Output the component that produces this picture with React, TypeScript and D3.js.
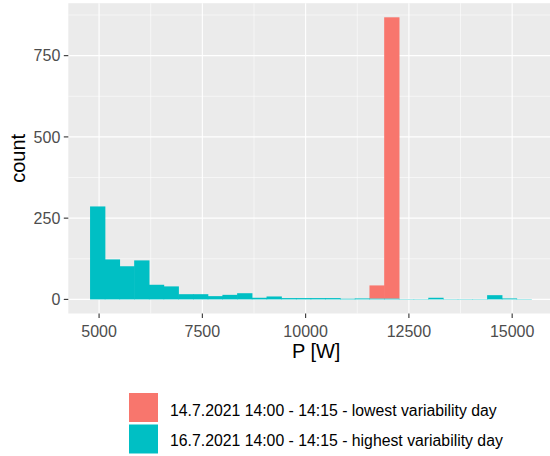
import React from "react";
import * as d3 from "d3";

// histogram bins (30 bins, shared by both days)
const binStart = 4789;
const binWidth = 356;
const highCounts = [286, 123, 102, 120, 45, 40, 16, 16, 10, 14, 19, 5, 9, 4, 4, 4, 4, 2, 3, 3, 3, 1, 1, 5, 1, 1, 1, 13, 3, 1];
const lowCounts = [0, 0, 0, 0, 0, 0, 0, 0, 0, 0, 0, 0, 0, 0, 0, 0, 0, 0, 0, 40, 865, 0, 0, 0, 0, 0, 0, 0, 0, 0];

const xTicks = [5000, 7500, 10000, 12500, 15000];
const xMinor = [6250, 8750, 11250, 13750];
const yTicks = [0, 250, 500, 750];
const yMinor = [125, 375, 625, 875];

const seriesNames = [
  "14.7.2021 14:00 - 14:15 - lowest variability day",
  "16.7.2021 14:00 - 14:15 - highest variability day",
];
const seriesColors = ["#F8766D", "#00BFC4"];

export default function App() {
  const W = 550;
  const H = 456;
  const panel = { left: 68.3, top: 3.2, right: 560, bottom: 313.5 };

  const rows = highCounts.map((h, i) => ({
    x0: binStart + i * binWidth,
    x1: binStart + (i + 1) * binWidth,
    high: h,
    low: lowCounts[i],
  }));

  // ggplot stacks the first level on top
  const stack = d3.stack<any>().keys(["high", "low"]);
  const layers = stack(rows);
  const maxY = d3.max(layers[1], (d) => d[1]) as number;
  const xMin = rows[0].x0;
  const xMax = rows[rows.length - 1].x1;
  const xPad = (xMax - xMin) * 0.05;
  const yPad = maxY * 0.05;

  const x = d3.scaleLinear().domain([xMin - xPad, xMax + xPad]).range([panel.left, 553.6]);
  const y = d3.scaleLinear().domain([-yPad, maxY + yPad]).range([panel.bottom, panel.top]);

  const font = "'Liberation Sans', Arial, sans-serif";
  const colorOf: Record<string, string> = { high: seriesColors[1], low: seriesColors[0] };

  return (
    <svg
      width={W}
      height={H}
      style={{ position: "absolute", left: 0, top: 0, background: "white" }}
      fontFamily={font}
    >
      <rect
        x={panel.left}
        y={panel.top}
        width={panel.right - panel.left}
        height={panel.bottom - panel.top}
        fill="#EBEBEB"
      />
      {/* minor grid */}
      {xMinor.map((v) => (
        <line key={"xm" + v} x1={x(v)} x2={x(v)} y1={panel.top} y2={panel.bottom} stroke="white" strokeWidth={0.55} />
      ))}
      {yMinor.map((v) => (
        <line key={"ym" + v} x1={panel.left} x2={panel.right} y1={y(v)} y2={y(v)} stroke="white" strokeWidth={0.55} />
      ))}
      {/* major grid */}
      {xTicks.map((v) => (
        <line key={"xg" + v} x1={x(v)} x2={x(v)} y1={panel.top} y2={panel.bottom} stroke="white" strokeWidth={1.1} />
      ))}
      {yTicks.map((v) => (
        <line key={"yg" + v} x1={panel.left} x2={panel.right} y1={y(v)} y2={y(v)} stroke="white" strokeWidth={1.1} />
      ))}

      {/* bars: each bin drawn a hair wider so neighbours don't leave seams */}
      {layers.map((layer) => (
        <g key={layer.key} fill={colorOf[layer.key]}>
          {layer
            .filter((d) => d[1] > d[0])
            .map((d, i) => (
              <rect
                key={i}
                x={x(d.data.x0) - 0.3}
                width={x(d.data.x1) - x(d.data.x0) + 0.6}
                y={y(d[1])}
                height={y(d[0]) - y(d[1])}
              />
            ))}
        </g>
      ))}

      {/* y axis */}
      {yTicks.map((v) => (
        <g key={"yt" + v}>
          <line x1={panel.left - 4.5} x2={panel.left} y1={y(v)} y2={y(v)} stroke="#333333" strokeWidth={1.1} />
          <text x={panel.left - 8} y={y(v)} dy="0.36em" textAnchor="end" fontSize={16} fill="#4D4D4D">
            {v}
          </text>
        </g>
      ))}
      {/* x axis */}
      {xTicks.map((v) => (
        <g key={"xt" + v}>
          <line x1={x(v)} x2={x(v)} y1={panel.bottom} y2={panel.bottom + 4.5} stroke="#333333" strokeWidth={1.1} />
          <text x={x(v)} y={336.5} textAnchor="middle" fontSize={16} fill="#4D4D4D">
            {v}
          </text>
        </g>
      ))}
      <text x={(panel.left + 550) / 2 + 7} y={358} textAnchor="middle" fontSize={20} fill="black">
        P [W]
      </text>
      <text
        transform={`translate(25,${(panel.top + panel.bottom) / 2}) rotate(-90)`}
        textAnchor="middle"
        fontSize={20}
        fill="black"
      >
        count
      </text>

      {/* legend */}
      {seriesNames.map((name, i) => (
        <g key={name}>
          <rect x={129} y={393 + i * 31.5} width={29} height={29} fill={seriesColors[i]} />
          <text x={170} y={415.5 + i * 30.5} fontSize={15.8} fill="black">
            {name}
          </text>
        </g>
      ))}
    </svg>
  );
}
